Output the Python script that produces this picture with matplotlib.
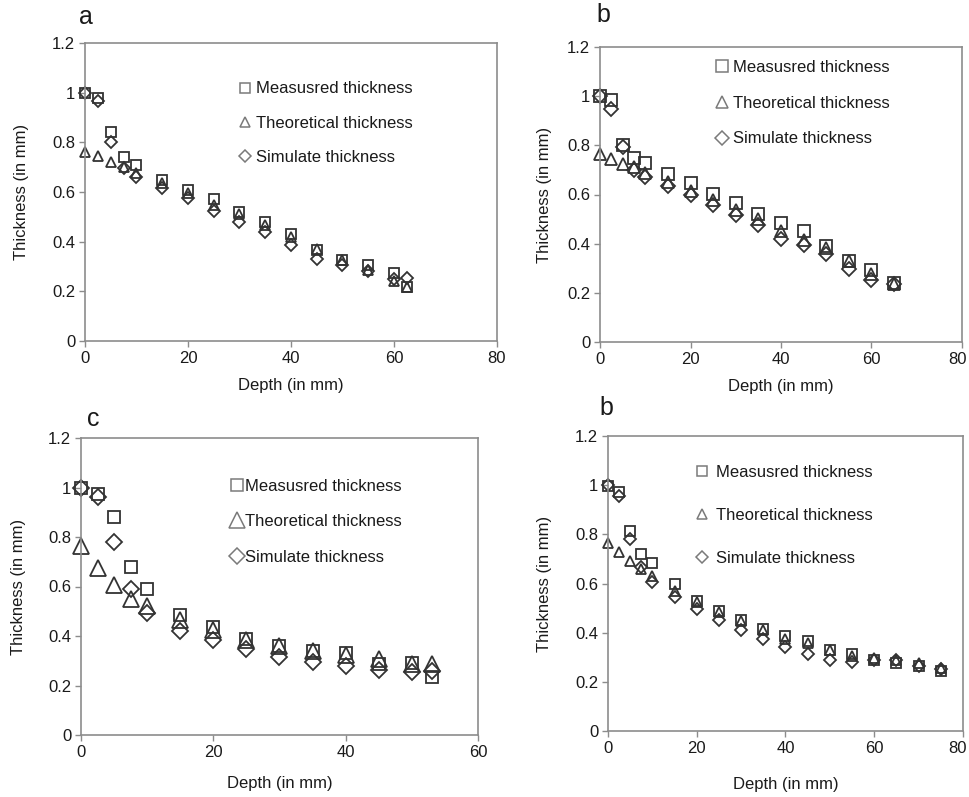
import numpy as np
import matplotlib
matplotlib.use("Agg")
import matplotlib.pyplot as plt
import matplotlib.transforms as mtransforms
from matplotlib.ticker import FuncFormatter

plt.rcParams['font.family'] = ['Liberation Sans', 'DejaVu Sans']

# ── data ───────────────────────────────────────────────────
labels = ["Measusred thickness", "Theoretical thickness", "Simulate thickness"]

x_a = [0, 2.5, 5, 7.5, 10, 15, 20, 25, 30, 35, 40, 45, 50, 55, 60, 62.5]
meas_a = [1.0, 0.98, 0.84, 0.74, 0.71, 0.65, 0.607, 0.57, 0.518, 0.48, 0.43, 0.368, 0.328, 0.306, 0.274, 0.216]
theo_a = [0.762, 0.744, 0.72, 0.70, 0.676, 0.636, 0.596, 0.549, 0.511, 0.468, 0.417, 0.372, 0.328, 0.287, 0.24, 0.217]
sim_a = [1.0, 0.965, 0.80, 0.697, 0.66, 0.616, 0.575, 0.525, 0.48, 0.44, 0.388, 0.33, 0.307, 0.283, 0.25, 0.254]

x_b = [0, 2.5, 5, 7.5, 10, 15, 20, 25, 30, 35, 40, 45, 50, 55, 60, 65]
meas_b = [1.0, 0.986, 0.8, 0.75, 0.73, 0.682, 0.647, 0.604, 0.566, 0.519, 0.485, 0.451, 0.392, 0.331, 0.293, 0.239]
theo_b = [0.764, 0.746, 0.726, 0.712, 0.689, 0.651, 0.614, 0.577, 0.536, 0.499, 0.453, 0.415, 0.381, 0.330, 0.276, 0.236]
sim_b = [1.0, 0.949, 0.793, 0.699, 0.672, 0.635, 0.597, 0.557, 0.516, 0.476, 0.419, 0.395, 0.358, 0.297, 0.253, 0.236]

x_c = [0, 2.5, 5, 7.5, 10, 15, 20, 25, 30, 35, 40, 45, 50, 53]
meas_c = [1.0, 0.973, 0.88, 0.677, 0.588, 0.484, 0.436, 0.389, 0.358, 0.339, 0.331, 0.288, 0.292, 0.236]
theo_c = [0.765, 0.673, 0.608, 0.551, 0.522, 0.464, 0.423, 0.382, 0.358, 0.339, 0.322, 0.308, 0.288, 0.288]
sim_c = [1.0, 0.963, 0.778, 0.588, 0.493, 0.420, 0.385, 0.349, 0.315, 0.295, 0.277, 0.261, 0.254, 0.258]

x_d = [0, 2.5, 5, 7.5, 10, 15, 20, 25, 30, 35, 40, 45, 50, 55, 60, 65, 70, 75]
meas_d = [0.997, 0.973, 0.814, 0.72, 0.682, 0.598, 0.53, 0.488, 0.451, 0.413, 0.386, 0.366, 0.328, 0.314, 0.29, 0.276, 0.266, 0.243]
theo_d = [0.763, 0.727, 0.69, 0.66, 0.629, 0.568, 0.523, 0.483, 0.446, 0.41, 0.375, 0.358, 0.328, 0.306, 0.297, 0.29, 0.276, 0.256]
sim_d = [1.0, 0.955, 0.78, 0.668, 0.605, 0.544, 0.497, 0.45, 0.41, 0.373, 0.342, 0.314, 0.29, 0.28, 0.29, 0.287, 0.266, 0.253]

W, H = 970, 797
fig = plt.figure(figsize=(W / 100, H / 100), dpi=100)

SPINE = "#8c8c8c"
EDGE = "#333333"
LEG_EDGE = "#7a7a7a"
TXT = "#1a1a1a"
FS = 12


def px_axes(l, t, r, b):
    # pixel box (left, top, right, bottom) -> figure fraction axes
    return fig.add_axes([l / W, (H - b) / H, (r - l) / W, (b - t) / H])


def panel(box, letter, letter_xy, x, meas, theo, sim, xmax, sizes,
          leg_anchor, leg_space, leg_pad, xlab_pad, ylab_pad, last_shift=0):
    ax = px_axes(*box)
    ms_s, ms_t, ms_d = sizes
    kw = dict(ls="none", mfc="none", mec=EDGE, mew=1.3, clip_on=False)
    ax.plot(x, meas, marker="s", ms=ms_s, label=labels[0], **kw)
    ax.plot(x, theo, marker="^", ms=ms_t, label=labels[1], **kw)
    ax.plot(x, sim, marker="D", ms=ms_d, label=labels[2], **kw)
    ax.set_xlim(0, xmax)
    ax.set_ylim(0, 1.2)
    ax.set_xticks(np.arange(0, xmax + 1, 20))
    ax.set_yticks(np.arange(0, 1.21, 0.2))
    ax.yaxis.set_major_formatter(FuncFormatter(lambda v, p: f"{v:g}"))
    ax.xaxis.set_major_formatter(FuncFormatter(lambda v, p: f"{v:g}"))
    for s in ax.spines.values():
        s.set_color(SPINE)
        s.set_linewidth(1.2)
    ax.tick_params(direction="out", length=4, width=1, color=SPINE, labelsize=FS,
                   labelcolor=TXT, pad=3)
    if last_shift:
        # keep the right-most tick label inside the canvas
        lab = ax.xaxis.get_major_ticks()[-1].label1
        lab.set_transform(lab.get_transform() +
                          mtransforms.ScaledTranslation(last_shift / 100, 0, fig.dpi_scale_trans))
    ax.set_xlabel("Depth (in mm)", fontsize=FS, color=TXT, labelpad=xlab_pad)
    ax.set_ylabel("Thickness (in mm)", fontsize=FS, color=TXT, labelpad=ylab_pad)
    leg = ax.legend(loc="upper left", bbox_to_anchor=leg_anchor, frameon=False, fontsize=FS,
                    handlelength=0.9, handletextpad=leg_pad, labelspacing=leg_space,
                    borderpad=0, borderaxespad=0, markerscale=1.0)
    for h in leg.legend_handles:
        h.set_markeredgecolor(LEG_EDGE)
        h.set_markeredgewidth(1.1)
    for t in leg.get_texts():
        t.set_color(TXT)
    fig.text(letter_xy[0] / W, 1 - letter_xy[1] / H, letter, fontsize=18, color=TXT,
             ha="center", va="center")
    return ax


panel((85, 43, 497, 341), "a", (86, 17), x_a, meas_a, theo_a, sim_a, 80,
      (7.5, 7.5, 6), (0.37, 0.871), 1.15, 0.2, 9, 17)
panel((600, 47, 962, 342), "b", (603, 15), x_b, meas_b, theo_b, sim_b, 80,
      (8, 8, 7), (0.317, 0.957), 1.25, 0.2, 9, 11, last_shift=-4)
panel((81, 438, 478, 735), "c", (93, 419), x_c, meas_c, theo_c, sim_c, 60,
      (8, 11, 8), (0.373, 0.862), 1.22, 0.05, 12, 16)
panel((608, 436, 963, 731), "b", (606, 408), x_d, meas_d, theo_d, sim_d, 80,
      (7.5, 7.5, 6), (0.245, 0.902), 1.68, 0.35, 15, 17, last_shift=-5)

fig.savefig("out.png", dpi=100)
